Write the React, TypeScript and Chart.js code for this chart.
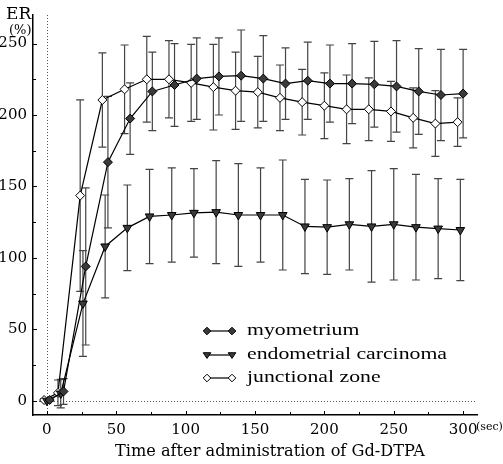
import React, { useEffect, useRef } from "react";
import { Chart, registerables } from "chart.js";

Chart.register(...registerables);

// ---- data (time in sec, ER in %) ----
const junctionalTime = [-2, 8, 24, 40, 56, 72, 88, 104, 120, 136, 152, 168, 184, 200, 216, 232, 248, 264, 280, 296];
const junctionalER = [0.5, 5.5, 143.6, 210.5, 218, 225, 225, 222.5, 219.5, 217, 216, 212, 209, 206.5, 204, 204, 202.5, 198, 194, 195];
const junctionalSD = [1, 9, 67, 33, 31, 30, 27, 27, 30, 27, 25, 23, 23, 23, 24, 22, 21, 21, 23, 17];

const myometriumTime = [2, 12, 28, 44, 60, 76, 92, 108, 124, 140, 156, 172, 188, 204, 220, 236, 252, 268, 284, 300];
const myometriumER = [0.5, 6.5, 94, 167, 197.5, 216.5, 221, 225.5, 227, 227.5, 225.5, 222, 224, 222, 222, 221.5, 220, 216.5, 214, 215];
const myometriumSD = [1, 9, 55, 46, 25, 27.5, 29, 28.5, 27, 32, 30, 25, 27, 27, 28, 30, 32, 30, 32, 31];

const carcinomaTime = [0, 10, 26, 42, 58, 74, 90, 106, 122, 138, 154, 170, 186, 202, 218, 234, 250, 266, 282, 298];
const carcinomaER = [0, 5, 68, 108, 121, 129, 130, 131.5, 132, 130, 130, 130, 122, 121.5, 123.5, 122, 123.5, 121.5, 120.5, 119.5];
const carcinomaSD = [1, 10, 37, 36, 30, 33, 33, 31, 36, 36, 33, 38.5, 33, 33, 32, 39, 39, 37, 35, 35.5];

const xLabelTicks = [0, 50, 100, 150, 200, 250, 300];
const yLabelTicks = [0, 50, 100, 150, 200, 250];

const legendLabels = ["myometrium", "endometrial carcinoma", "junctional zone"];
const xTitle = "Time after administration of Gd-DTPA";
const yTitle = "ER";
const yUnit = "(%)";
const xUnit = "(sec)";

const FONT = "'DejaVu Serif', 'Liberation Serif', serif";
const LEGEND_FONT = "'Liberation Serif', 'DejaVu Serif', serif";
const DARK = "#3a3a3a";

const series = [
  { time: myometriumTime, er: myometriumER, sd: myometriumSD, style: "rectRot", fill: DARK, radius: 4.5, rot: 0 },
  { time: carcinomaTime, er: carcinomaER, sd: carcinomaSD, style: "triangle", fill: DARK, radius: 5, rot: 180 },
  { time: junctionalTime, er: junctionalER, sd: junctionalSD, style: "rectRot", fill: "#ffffff", radius: 4.5, rot: 0 },
];

function drawMarker(ctx: CanvasRenderingContext2D, kind: string, fill: string, cx: number, cy: number, r: number) {
  ctx.beginPath();
  if (kind === "triangle") {
    ctx.moveTo(cx - r, cy - r * 0.6);
    ctx.lineTo(cx + r, cy - r * 0.6);
    ctx.lineTo(cx, cy + r * 0.9);
    ctx.closePath();
  } else {
    ctx.moveTo(cx, cy - r);
    ctx.lineTo(cx + r, cy);
    ctx.lineTo(cx, cy + r);
    ctx.lineTo(cx - r, cy);
    ctx.closePath();
  }
  ctx.fillStyle = fill;
  ctx.fill();
  ctx.lineWidth = 1;
  ctx.strokeStyle = "#000";
  ctx.stroke();
}

export default function App() {
  const ref = useRef<HTMLCanvasElement | null>(null);

  useEffect(() => {
    const canvas = ref.current;
    if (!canvas) return;

    const underlay = {
      id: "underlay",
      beforeDatasetsDraw(chart: any) {
        const { ctx, chartArea, scales } = chart;
        const x = scales.x;
        const y = scales.y;
        ctx.save();
        // dotted zero lines
        ctx.strokeStyle = "#555";
        ctx.lineWidth = 1;
        ctx.setLineDash([1, 2]);
        const x0 = Math.round(x.getPixelForValue(0)) + 0.5;
        const y0 = Math.round(y.getPixelForValue(0)) + 0.5;
        ctx.beginPath();
        ctx.moveTo(x0, chartArea.top);
        ctx.lineTo(x0, chartArea.bottom);
        ctx.moveTo(chartArea.left, y0);
        ctx.lineTo(chartArea.right, y0);
        ctx.stroke();
        ctx.setLineDash([]);
        // error bars
        ctx.strokeStyle = "#444";
        ctx.lineWidth = 1.2;
        series.forEach((s) => {
          s.time.forEach((t, i) => {
            const px = x.getPixelForValue(t);
            const top = y.getPixelForValue(s.er[i] + s.sd[i]);
            const bot = y.getPixelForValue(s.er[i] - s.sd[i]);
            ctx.beginPath();
            ctx.moveTo(px, top);
            ctx.lineTo(px, bot);
            ctx.moveTo(px - 4, top);
            ctx.lineTo(px + 4, top);
            ctx.moveTo(px - 4, bot);
            ctx.lineTo(px + 4, bot);
            ctx.stroke();
          });
        });
        ctx.restore();
      },
    };

    const overlay = {
      id: "overlay",
      afterDraw(chart: any) {
        const { ctx, chartArea, scales } = chart;
        const x = scales.x;
        const y = scales.y;
        ctx.save();
        // inward ticks
        ctx.strokeStyle = "#000";
        ctx.lineWidth = 1;
        for (let v = 0; v <= 300; v += 25) {
          const px = Math.round(x.getPixelForValue(v)) + 0.5;
          ctx.beginPath();
          ctx.moveTo(px, chartArea.bottom);
          ctx.lineTo(px, chartArea.bottom - (v % 50 === 0 ? 4 : 3));
          ctx.stroke();
        }
        for (let v = 0; v <= 250; v += 25) {
          const py = Math.round(y.getPixelForValue(v)) + 0.5;
          ctx.beginPath();
          ctx.moveTo(chartArea.left, py);
          ctx.lineTo(chartArea.left + (v % 50 === 0 ? 4 : 3), py);
          ctx.stroke();
        }
        // axis unit labels
        ctx.fillStyle = "#000";
        ctx.textBaseline = "middle";
        ctx.textAlign = "left";
        ctx.font = `17px ${FONT}`;
        ctx.fillText(yTitle, 6, 15);
        ctx.font = `13px ${FONT}`;
        ctx.fillText(yUnit, 9, 31);
        ctx.font = `11px ${FONT}`;
        ctx.fillText(xUnit, 476, 427);
        // x title, fitted to reference width
        ctx.font = `16px ${FONT}`;
        const tw = ctx.measureText(xTitle).width;
        ctx.save();
        ctx.translate(115, 452);
        ctx.scale(310 / tw, 1);
        ctx.fillText(xTitle, 0, 0);
        ctx.restore();
        // legend
        ctx.font = `17px ${LEGEND_FONT}`;
        const lw = ctx.measureText(legendLabels[1]).width;
        const sx = 200 / lw;
        const rows = [331, 355, 378];
        series.forEach((s, i) => {
          const ry = rows[i];
          ctx.strokeStyle = "#000";
          ctx.lineWidth = 1.2;
          ctx.beginPath();
          ctx.moveTo(207, ry);
          ctx.lineTo(232, ry);
          ctx.stroke();
          drawMarker(ctx, s.style, s.fill, 207, ry, 3.8);
          drawMarker(ctx, s.style, s.fill, 232, ry, 3.8);
          ctx.fillStyle = "#000";
          ctx.save();
          ctx.translate(247, ry);
          ctx.scale(sx, 1);
          ctx.fillText(legendLabels[i], 0, 0);
          ctx.restore();
        });
        ctx.restore();
      },
    };

    const chart = new Chart(canvas, {
      type: "line",
      data: {
        datasets: series.map((s, i) => ({
          label: legendLabels[i],
          data: s.time.map((t, j) => ({ x: t, y: s.er[j] })),
          borderColor: "#000",
          borderWidth: 1.2,
          backgroundColor: s.fill,
          pointBackgroundColor: s.fill,
          pointBorderColor: "#000",
          pointBorderWidth: 1,
          pointStyle: s.style as any,
          pointRadius: s.radius,
          pointRotation: s.rot,
          tension: 0,
          fill: false,
        })),
      },
      options: {
        animation: false,
        responsive: false,
        devicePixelRatio: 1,
        layout: { padding: { top: 14, right: 26, left: 0, bottom: 0 } },
        plugins: { legend: { display: false }, tooltip: { enabled: false } },
        scales: {
          x: {
            type: "linear",
            min: -10,
            max: 310,
            afterFit: (scale: any) => {
              scale.height = 49;
            },
            grid: { display: false, drawTicks: false },
            border: { display: true, color: "#000", width: 1.5 },
            ticks: {
              stepSize: 50,
              includeBounds: false,
              autoSkip: false,
              maxRotation: 0,
              padding: 6,
              color: "#000",
              font: { family: FONT, size: 15 },
              callback: (v: any) => (xLabelTicks.includes(Number(v)) ? String(v) : ""),
            },
          },
          y: {
            type: "linear",
            min: -10,
            max: 270,
            afterFit: (scale: any) => {
              scale.width = 33;
            },
            grid: { display: false, drawTicks: false },
            border: { display: true, color: "#000", width: 1.5 },
            ticks: {
              stepSize: 50,
              includeBounds: false,
              autoSkip: false,
              padding: 6,
              color: "#000",
              font: { family: FONT, size: 15 },
              callback: (v: any) => (yLabelTicks.includes(Number(v)) ? String(v) : ""),
            },
          },
        },
      },
      plugins: [underlay, overlay],
    });

    return () => {
      chart.destroy();
    };
  }, []);

  return (
    <div style={{ position: "fixed", left: 0, top: 0, width: 503, height: 464, background: "#fff" }}>
      <canvas ref={ref} width={503} height={464} style={{ width: 503, height: 464, display: "block" }} />
    </div>
  );
}
